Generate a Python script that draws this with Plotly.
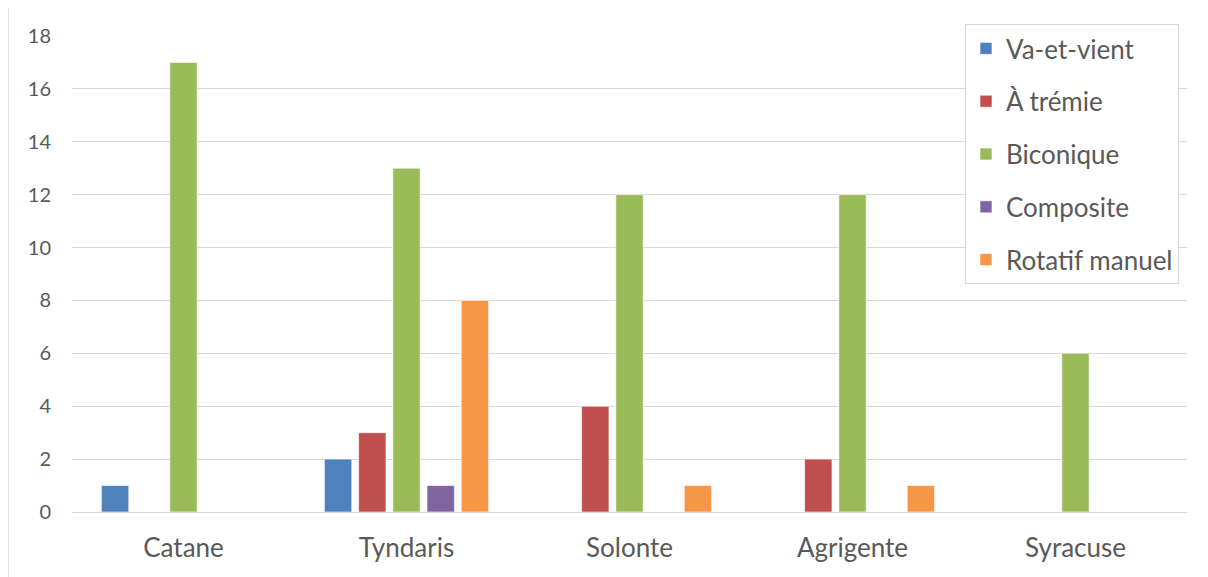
import plotly.graph_objects as go

categories = ["Catane", "Tyndaris", "Solonte", "Agrigente", "Syracuse"]
series_names = ["Va-et-vient", "À trémie", "Biconique", "Composite", "Rotatif manuel"]
va_et_vient = [1, 2, 0, 0, 0]
a_tremie = [0, 3, 4, 2, 0]
biconique = [17, 13, 12, 12, 6]
composite = [0, 1, 0, 0, 0]
rotatif_manuel = [0, 8, 1, 1, 0]
y_ticks = [0, 2, 4, 6, 8, 10, 12, 14, 16, 18]

series_values = [va_et_vient, a_tremie, biconique, composite, rotatif_manuel]
colors = ["#4F81BD", "#C0504D", "#9BBB59", "#8064A2", "#F79646"]

fig = go.Figure()
for name, vals, col in zip(series_names, series_values, colors):
    fig.add_trace(go.Bar(
        x=categories, y=vals, name=name, legendgroup=name,
        marker=dict(color=col, line=dict(color="rgba(255,255,255,0.6)", width=1)),
    ))

# page has an 8px body margin
OFF = 8
W, H = 1200, 569
ml, mr, mt, mb = 72 - OFF, 21, 36 - OFF, 65
pw = W - ml - mr
ph = H - mt - mb

def px_x(px):
    return (px - OFF - ml) / pw

def px_y(py):
    return 1 - (py - OFF - mt) / ph

fig.update_layout(
    width=W, height=H,
    margin=dict(l=ml, r=mr, t=mt, b=mb),
    paper_bgcolor="white", plot_bgcolor="white",
    barmode="group", bargap=0.233, bargroupgap=0.2,
    font=dict(family="Lato, Open Sans, sans-serif", color="#595959"),
    showlegend=True,
    legend=dict(
        x=px_x(965), y=px_y(24), xanchor="left", yanchor="top",
        bordercolor="#D9D9D9", borderwidth=1, bgcolor="white",
        font=dict(size=26, color="#595959"),
        traceorder="grouped", tracegroupgap=16,
        itemwidth=30, entrywidth=188, entrywidthmode="pixels",
    ),
    xaxis=dict(
        showgrid=False, showline=False, ticks="", ticklabelstandoff=18,
        tickfont=dict(size=26, color="#595959"),
    ),
    yaxis=dict(
        range=[0, 18], tickvals=y_ticks, showgrid=True, gridcolor="#D9D9D9", gridwidth=1,
        zeroline=True, zerolinecolor="#D9D9D9", zerolinewidth=1,
        showline=False, ticks="", ticklabelstandoff=20,
        tickfont=dict(size=20, color="#595959"),
    ),
    shapes=[dict(
        type="rect", xref="paper", yref="paper",
        x0=px_x(8), x1=px_x(1205),
        y0=px_y(585), y1=px_y(7),
        line=dict(color="#D9D9D9", width=1.5), layer="below",
    )],
)

fig.write_html("out.html")
